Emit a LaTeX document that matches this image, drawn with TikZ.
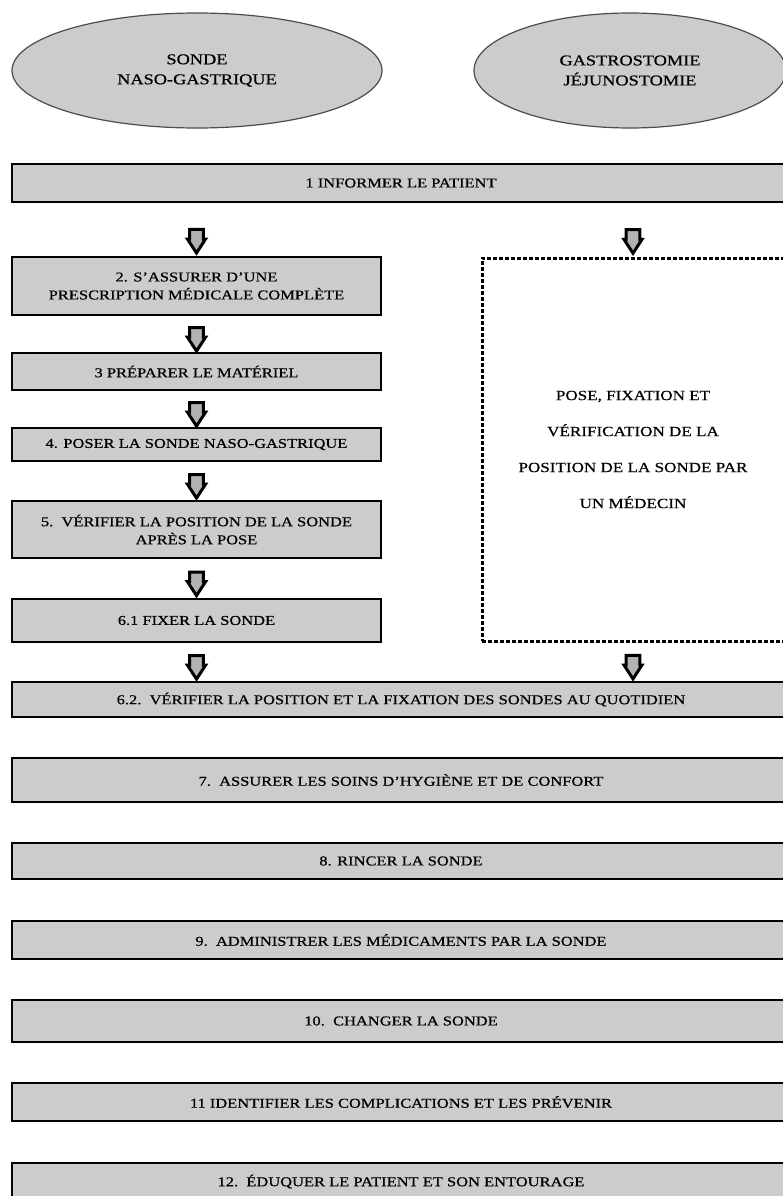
\documentclass[tikz,border=0pt]{standalone}
\usepackage{fontspec}
\setmainfont{Liberation Serif}[FakeStretch=1.22, FakeBold=0.6]
\usetikzlibrary{shapes.geometric,shapes.arrows}

\begin{document}
\begin{tikzpicture}[x=1pt,y=-1pt,
    etape/.style={rectangle, draw=black, line width=1.8pt, fill=gray!40,
      align=center, inner sep=2pt, font=\fontsize{13.5}{18}\selectfont},
    gauche/.style={etape, minimum width=369pt},
    large/.style={etape, minimum width=778pt},
    sonde/.style={ellipse, draw=black!70, line width=1.2pt, fill=gray!40,
      align=center, minimum height=115pt, font=\fontsize{15}{20}\selectfont},
    fleche/.style={single arrow, shape border rotate=270, draw=black,
      line width=3pt, fill=gray!60, minimum height=23pt, minimum width=18pt,
      single arrow head extend=2pt, single arrow tip angle=66, inner sep=5pt}]
  \useasboundingbox (0,0) rectangle (782,1196);

  \draw
  (197,70.5) node[sonde, minimum width=370pt](sng) {SONDE\\NASO-GASTRIQUE}
  (630,70.5) node[sonde, minimum width=312pt](gj) {GASTROSTOMIE\\JÉJUNOSTOMIE}
  (401,183) node[large, minimum height=38pt](b1) {1 INFORMER LE PATIENT}
  (196.5,286) node[gauche, minimum height=58pt](b2) {2. S’ASSURER D’UNE\\PRESCRIPTION MÉDICALE COMPLÈTE}
  (196.5,371.5) node[gauche, minimum height=37pt](b3) {3 PRÉPARER LE MATÉRIEL}
  (196.5,444.5) node[gauche, minimum height=33pt](b4) {4. POSER LA SONDE NASO-GASTRIQUE}
  (196.5,529.5) node[gauche, minimum height=57pt](b5) {5.\ \ VÉRIFIER LA POSITION DE LA SONDE\\APRÈS LA POSE}
  (196.5,620.5) node[gauche, minimum height=43pt](b61) {6.1 FIXER LA SONDE}
  (401,699.5) node[large, minimum height=35pt](b62) {6.2.\ \ VÉRIFIER LA POSITION ET LA FIXATION DES SONDES AU QUOTIDIEN}
  (401,780) node[large, minimum height=44pt](b7) {7.\ \ ASSURER LES SOINS D’HYGIÈNE ET DE CONFORT}
  (401,861) node[large, minimum height=36pt](b8) {8. RINCER LA SONDE}
  (401,940) node[large, minimum height=38pt](b9) {9.\ \ ADMINISTRER LES MÉDICAMENTS PAR LA SONDE}
  (401,1021) node[large, minimum height=42pt](b10) {10.\ \ CHANGER LA SONDE}
  (401,1102) node[large, minimum height=38pt](b11) {11 IDENTIFIER LES COMPLICATIONS ET LES PRÉVENIR}
  (401,1181.5) node[large, minimum height=37pt](b12) {12.\ \ ÉDUQUER LE PATIENT ET SON ENTOURAGE};

  \node[draw=black, line width=3pt, dash pattern=on 4pt off 2pt,
    minimum width=302pt, minimum height=383pt, align=center,
    font=\fontsize{14}{36}\selectfont] (pose) at (633,449.5)
    {POSE, FIXATION ET\\VÉRIFICATION DE LA\\POSITION DE LA SONDE PAR\\UN MÉDECIN};

  \path (b2.north |- b1.south) -- node[fleche, pos=0.62] {} (b2.north);
  \path (pose.north |- b1.south) -- node[fleche, pos=0.62] {} (pose.north);
  \path (b2) -- node[fleche] {} (b3);
  \path (b3) -- node[fleche] {} (b4);
  \path (b4) -- node[fleche] {} (b5);
  \path (b5) -- node[fleche] {} (b61);
  \path (b61.south) -- node[fleche] {} (b61.south |- b62.north);
  \path (pose.south) -- node[fleche] {} (pose.south |- b62.north);

\end{tikzpicture}
\end{document}
